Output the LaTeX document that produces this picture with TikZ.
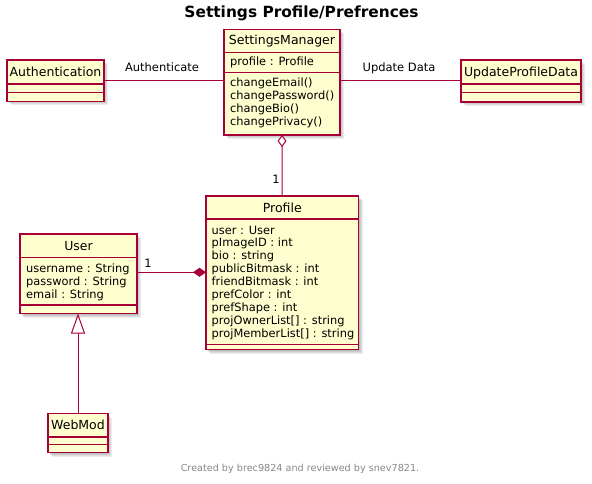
\documentclass[tikz,border=0pt]{standalone}
\usepackage{fontspec}
\setmainfont{DejaVu Sans}
\usetikzlibrary{arrows.meta}

\definecolor{umlfill}{HTML}{FEFECE}
\definecolor{umlline}{HTML}{A80036}
\definecolor{footgray}{HTML}{888888}

\tikzset{
  classbox/.style={draw=umlline, fill=umlfill, line width=1.2pt, rectangle,
    inner sep=0pt, outer sep=0pt, anchor=north west},
  sepline/.style={draw=umlline, line width=1.2pt},
  cname/.style={font=\fontsize{12.5}{15}\selectfont, inner sep=0pt, anchor=base},
  member/.style={font=\fontsize{11.4}{13}\selectfont, inner sep=0pt, anchor=base west},
  lbl/.style={font=\fontsize{11.5}{13}\selectfont, inner sep=0pt, anchor=base},
  link/.style={draw=umlline, line width=1pt},
}

% class box: name, x1, y1, x2, y2, first separator, second separator
\newcommand\umlbox[7]{%
  \foreach \s in {1,...,4}{%
    \fill[black, opacity=0.07] ({#2+\s},{#3+\s}) rectangle ({#4+\s},{#5+\s});}
  \node[classbox, minimum width={#4-#2}, minimum height={#5-#3}] (#1) at (#2,#3) {};
  \draw[sepline] (#1.west |- 0,#6) -- (#1.east |- 0,#6);
  \draw[sepline] (#1.west |- 0,#7) -- (#1.east |- 0,#7);
}

% member lines: name prefix, x, first baseline, list
\newcommand\members[4]{%
  \foreach \t [count=\i from 0] in {#4}
    \node[member] (#1\i) at (#2,{#3+12.9*\i}) {\t};
}

\begin{document}
\begin{tikzpicture}[x=1pt, y=-1pt]
  \fill[white] (0,0) rectangle (592,484);
  \useasboundingbox (0,0) rectangle (592,484);

  % title and footer
  \node[font=\fontsize{15.4}{18}\selectfont\bfseries, inner sep=0pt, anchor=base]
    (title) at (301.5,17.5) {Settings Profile/Prefrences};
  \node[font=\fontsize{9.65}{11}\selectfont, text=footgray, inner sep=0pt, anchor=base]
    (footer) at (300,471.5) {Created by brec9824 and reviewed by snev7821.};

  % classes
  \umlbox{auth}{7}{60}{104}{101.5}{84}{92.5}
  \node[cname] (authN) at (55.5,77) {Authentication};

  \umlbox{sm}{224}{29.5}{340}{135}{52.5}{72.5}
  \node[cname] (smN) at (282,45) {SettingsManager};
  \members{smA}{230}{66}{{profile : Profile}}
  \members{smM}{230}{86.5}{{changeEmail()},{changePassword()},{changeBio()},{changePrivacy()}}

  \umlbox{upd}{461}{60}{581}{102}{84}{92.5}
  \node[cname] (updN) at (521,77) {UpdateProfileData};

  \umlbox{prof}{206}{196}{358.5}{349.5}{219}{344.5}
  \node[cname] (profN) at (282.25,212.5) {Profile};
  \members{profA}{211.5}{234}{{user : User},{pImageID : int},{bio : string},{publicBitmask : int},{friendBitmask : int},{prefColor : int},{prefShape : int},{projOwnerList[] : string},{projMemberList[] : string}}

  \umlbox{user}{20}{234}{137}{313.5}{257.5}{305}
  \node[cname] (userN) at (78.5,250) {User};
  \members{userA}{26}{272.3}{{username : String},{password : String},{email : String}}

  \umlbox{web}{48}{413.5}{108}{452.5}{437}{444.5}
  \node[cname] (webN) at (78,429.5) {WebMod};

  % associations
  \draw[link] (auth.east) -- (sm.west |- auth.east);
  \node[lbl] (lauth) at (162,72) {Authenticate};
  \draw[link] (sm.east |- upd.west) -- (upd.west);
  \node[lbl] (lupd) at (399,72) {Update Data};

  % aggregation
  \draw[link, {Diamond[fill=white, length=12pt, width=9pt]}-] (sm.south) -- (prof.north);
  \node[lbl] (m1) at (276,184) {1};

  % composition
  \draw[link, -{Diamond[fill=umlline, length=13pt, width=9pt]}]
    (user.east |- 0,272.3) -- (prof.west |- 0,272.3);
  \node[lbl] (m2) at (148,267) {1};

  % generalization
  \draw[link, -{Triangle[fill=white, length=20pt, width=14pt]}] (web.north) -- (web.north |- user.south);
\end{tikzpicture}
\end{document}
